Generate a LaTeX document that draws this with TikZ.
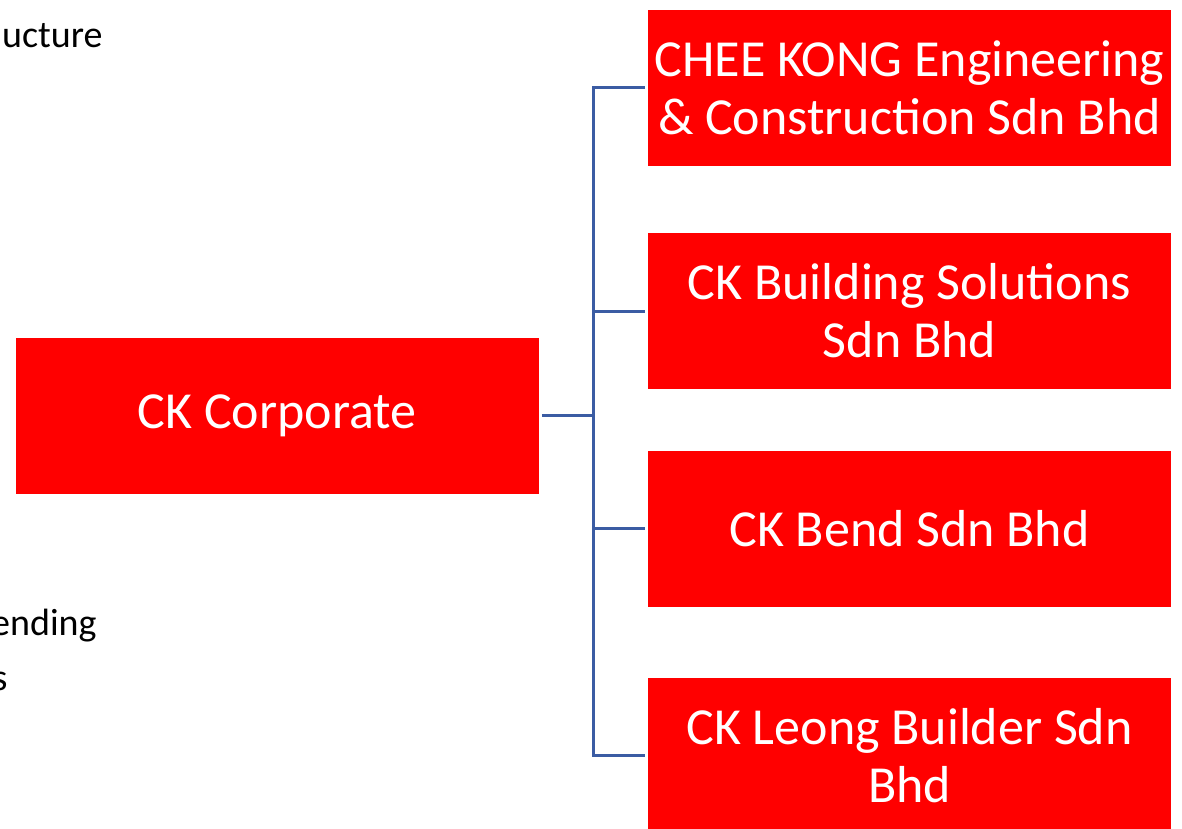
\documentclass[tikz,border=0pt]{standalone}
\usepackage{fontspec}
\setmainfont{Carlito}
\usetikzlibrary{calc}
\definecolor{ckred}{RGB}{255,0,0}
\definecolor{linkblue}{RGB}{59,92,163}

\begin{document}
\begin{tikzpicture}[x=0.5pt, y=-0.5pt,
    unit/.style={fill=ckred, text=white, inner sep=0pt, minimum width=261.5pt,
        minimum height=78pt, align=center, font=\fontsize{26}{29}\selectfont},
    link/.style={draw=linkblue, line width=1.5pt},
    side/.style={anchor=base east, inner sep=0pt, font=\fontsize{19}{23}\selectfont}]
    \useasboundingbox[clip] (0,0) rectangle (1182,829);
    \def\xTrunk{593}
    \def\xUnits{909.5}

    % left-hand text, cut off by the frame
    \node[side] (tstruct) at (103,48) {ucture};
    \node[side] (tpend) at (97,635) {ending};
    \node[side] (tlast) at (8,690) {s};

    % the parent company
    \node[unit] (corp) at (277,415.5) {CK Corporate};

    % Define the subsidiaries
    \node[unit] (chee) at (\xUnits,88) {CHEE KONG Engineering\\\& Construction Sdn Bhd};
    \node[unit] (build) at (\xUnits,311) {CK Building Solutions\\Sdn Bhd};
    \node[unit] (bend) at (\xUnits,528.5) {CK Bend Sdn Bhd};
    \node[unit] (leong) at (\xUnits,755.5) {CK Leong Builder Sdn\\Bhd};

    % Draw the tree lines
    \coordinate (hub) at (\xTrunk,415.5);
    \draw[link] ([xshift=1.5pt]corp.east) -- (hub);
    \foreach \unitname in {chee,build,bend,leong}
        \draw[link] (hub) |- ([xshift=-1.5pt]\unitname.west);
\end{tikzpicture}
\end{document}
